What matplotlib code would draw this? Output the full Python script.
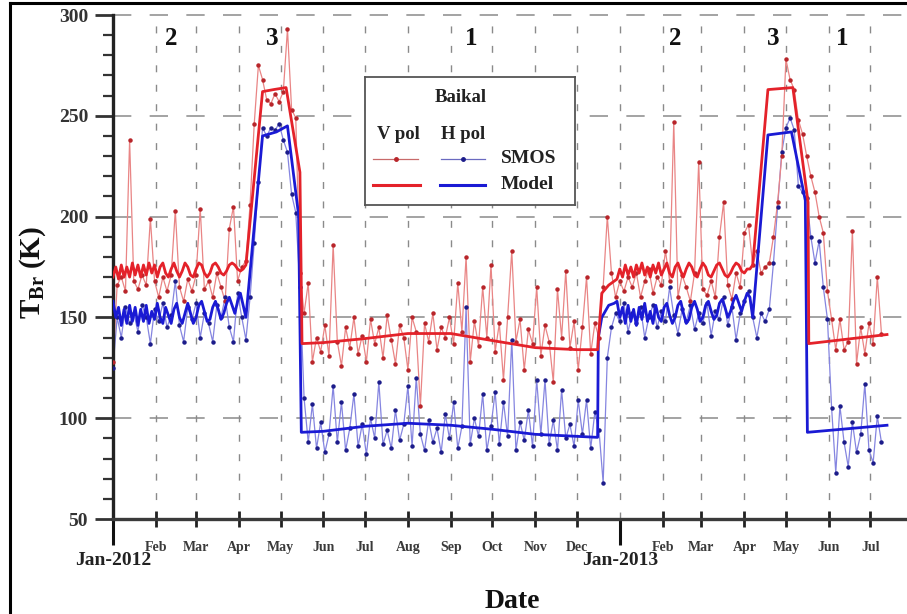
import numpy as np
import matplotlib
matplotlib.use("Agg")
import matplotlib.pyplot as plt
import matplotlib.dates as mdates
from matplotlib.lines import Line2D
from datetime import date

plt.rcParams['font.family'] = ['Liberation Serif', 'DejaVu Serif']
plt.rcParams['font.weight'] = 'bold'
plt.rcParams['mathtext.fontset'] = 'custom'
plt.rcParams['mathtext.rm'] = 'Liberation Serif:bold'
plt.rcParams['mathtext.bf'] = 'Liberation Serif:bold'
plt.rcParams['mathtext.it'] = 'Liberation Serif:bold'

# ---------------------------------------------------------------
# Data: days are counted from 1 Jan 2012
# ---------------------------------------------------------------
SMOS_STEP = 3          # days between plotted SMOS samples
MODEL_STEP = 2         # days between model samples in the ice periods

# SMOS brightness temperatures (K), V and H polarisation, by period
smos_v_a_start, smos_v_a = 0, [128, 166, 170, 163, 238, 168, 164, 171, 166, 199,
                               168, 160, 170, 163, 171, 203, 165, 158, 169, 163,
                               171, 204, 164, 168, 160, 172, 165, 158, 194, 205,
                               168, 175]
smos_h_a = [125, 150, 140, 155, 147, 152, 143, 156, 150, 137,
            154, 148, 157, 145, 151, 168, 146, 138, 155, 149,
            157, 140, 152, 147, 138, 156, 150, 160, 145, 138,
            162, 150]

smos_b_start = 96
smos_v_b = [178, 206, 246, 275, 268, 258, 256, 261, 257, 262, 293, 253, 249, 172]
smos_h_b = [139, 160, 187, 217, 244, 240, 244, 243, 246, 238, 232, 211, 202, 165]

smos_c_start = 138
smos_v_c = [152, 167, 128, 140, 133, 146, 131, 186, 138, 126,
            145, 135, 150, 132, 141, 128, 149, 137, 145, 130,
            151, 139, 127, 146, 140, 124, 150, 143, 106, 147,
            138, 152, 134, 145, 140, 150, 137, 167, 143, 180,
            128, 148, 136, 165, 140, 176, 133, 147, 119, 150,
            183, 138, 149, 124, 144, 137, 165, 131, 146, 138,
            118, 164, 140, 173, 135, 148, 124, 145, 170, 132,
            147, 140]
smos_h_c = [110, 88, 107, 85, 98, 83, 92, 116, 88, 108,
            84, 95, 112, 86, 97, 82, 100, 90, 118, 87,
            94, 85, 104, 89, 97, 116, 86, 120, 92, 84,
            99, 88, 95, 83, 102, 90, 108, 85, 96, 155,
            87, 100, 91, 112, 84, 96, 113, 87, 108, 91,
            139, 84, 98, 89, 104, 86, 119, 92, 119, 87,
            99, 84, 114, 90, 97, 86, 109, 92, 109, 85,
            103, 94]

smos_d_start = 354
smos_v_d = [165, 200, 172, 160, 168, 163, 170, 165, 172, 160,
            168, 174, 162, 170, 166, 183, 168, 247, 160, 171,
            165, 158, 172, 227, 164, 161, 168, 160, 190, 207,
            166, 159, 172, 165, 192, 196]
smos_h_d = [68, 130, 145, 152, 148, 157, 143, 152, 147, 155,
            140, 150, 156, 145, 153, 148, 165, 151, 142, 154,
            148, 156, 144, 152, 147, 157, 141, 153, 149, 160,
            146, 155, 139, 152, 158, 163]

smos_e_start = 462
smos_v_e = [176, 183, 172, 175, 177, 190, 207, 230, 278, 268,
            263, 248, 241, 230, 220, 212, 200, 192, 163, 149,
            134, 149, 134, 138, 193, 127, 145, 132, 147, 137,
            170, 142]
smos_h_e = [150, 140, 152, 148, 154, 177, 205, 232, 244, 249,
            243, 215, 212, 209, 190, 177, 188, 165, 149, 105,
            73, 106, 88, 76, 98, 83, 92, 117, 84, 78,
            101, 88]

# Model (K): ice-covered winters sampled every MODEL_STEP days
model_w12_start = 0
model_v_w12 = [170, 175, 169, 176, 170, 175, 170, 177, 171, 176,
               170, 176, 171, 177, 172, 176, 170, 175, 177, 172,
               170, 174, 177, 173, 170, 173, 177, 175, 171, 170,
               174, 177, 176, 172, 170, 172, 176, 177, 175, 172,
               171, 173, 176, 177, 176, 174, 173, 174]
model_h_w12 = [158, 150, 155, 146, 154, 147, 156, 148, 155, 146,
               154, 148, 156, 147, 153, 149, 157, 150, 147, 155,
               151, 147, 154, 157, 150, 147, 152, 157, 152, 147,
               150, 156, 158, 153, 148, 149, 155, 158, 154, 149,
               152, 157, 160, 156, 152, 158, 162, 156]

model_w13_start = 364
model_v_w13 = [169, 174, 170, 176, 171, 175, 170, 176, 172, 177,
               171, 175, 170, 176, 172, 177, 171, 174, 177, 172,
               170, 175, 177, 173, 170, 174, 177, 175, 171, 170,
               174, 177, 175, 171, 170, 173, 176, 177, 174, 171,
               170, 172, 175, 177, 176, 173, 172, 174]
model_h_w13 = [158, 150, 155, 147, 156, 148, 154, 146, 155, 149,
               157, 148, 153, 147, 156, 150, 148, 155, 157, 151,
               147, 150, 156, 158, 152, 147, 149, 155, 158, 154,
               148, 150, 156, 158, 153, 149, 151, 157, 159, 155,
               150, 153, 158, 161, 157, 153, 158, 162]

# Model: melt, open water and freeze-up
model_v_mid_days = [96, 108, 116, 125, 135, 136.5, 152, 182, 213, 244, 274, 305, 335, 350, 353, 358, 362]
model_v_mid = [176, 262, 263, 264, 222, 137, 137.5, 139.5, 142, 142, 138.5, 135, 134, 134, 162, 166, 168]
model_h_mid_days = [96, 108, 118, 126, 134, 136, 152, 182, 213, 244, 274, 305, 335, 350, 350.5, 353, 358, 362]
model_h_mid = [150, 240, 242, 245, 201, 93, 93.5, 96, 97.5, 96.5, 94.5, 92, 91, 90.5, 140, 150, 156, 157]

model_v_end_days = [460, 462, 473, 491, 502, 502.5, 559]
model_v_end = [174, 176, 263, 264, 207, 137, 141.5]
model_h_end_days = [460, 462, 473, 490, 500, 501.5, 559]
model_h_end = [160, 150, 240.5, 242, 208, 93, 96.5]

# Ice regime labels along the top
regime_labels = ['2', '3', '1', '2', '3', '1']
regime_days = [42, 115, 259, 406, 477, 527]

# ---------------------------------------------------------------
T0 = mdates.date2num(date(2012, 1, 1))


def grid_days(start, values, step):
    return start + step * np.arange(len(values))


smos_days = np.concatenate([
    grid_days(smos_v_a_start, smos_v_a, SMOS_STEP),
    grid_days(smos_b_start, smos_v_b, SMOS_STEP),
    grid_days(smos_c_start, smos_v_c, SMOS_STEP),
    grid_days(smos_d_start, smos_v_d, SMOS_STEP),
    grid_days(smos_e_start, smos_v_e, SMOS_STEP),
])
smos_v = np.concatenate([smos_v_a, smos_v_b, smos_v_c, smos_v_d, smos_v_e])
smos_h = np.concatenate([smos_h_a, smos_h_b, smos_h_c, smos_h_d, smos_h_e])

model_v_days = np.concatenate([grid_days(model_w12_start, model_v_w12, MODEL_STEP),
                               model_v_mid_days,
                               grid_days(model_w13_start, model_v_w13, MODEL_STEP),
                               model_v_end_days])
model_v = np.concatenate([model_v_w12, model_v_mid, model_v_w13, model_v_end])
model_h_days = np.concatenate([grid_days(model_w12_start, model_h_w12, MODEL_STEP),
                               model_h_mid_days,
                               grid_days(model_w13_start, model_h_w13, MODEL_STEP),
                               model_h_end_days])
model_h = np.concatenate([model_h_w12, model_h_mid, model_h_w13, model_h_end])

# Styles
V_LINE, V_DOT, V_MODEL = '#e98585', '#b8252a', '#e4222a'
H_LINE, H_DOT, H_MODEL = '#8585e0', '#1c1c8a', '#1a1ad4'
GRID = '#8a8a8a'

fig = plt.figure(figsize=(9.07, 6.14), dpi=100)
ax = fig.add_axes([113 / 907, 95 / 614, (905 - 113) / 907, 504 / 614])

ax.plot(T0 + smos_days, smos_h, color=H_LINE, lw=0.9, zorder=2)
ax.plot(T0 + smos_days, smos_h, ls='none', marker='o', ms=2.2, color=H_DOT, zorder=3)
ax.plot(T0 + smos_days, smos_v, color=V_LINE, lw=0.9, zorder=2)
ax.plot(T0 + smos_days, smos_v, ls='none', marker='o', ms=2.2, color=V_DOT, zorder=3)
ax.plot(T0 + model_h_days, model_h, color=H_MODEL, lw=2.0, zorder=4)
ax.plot(T0 + model_v_days, model_v, color=V_MODEL, lw=2.0, zorder=5)

ax.set_xlim(T0, T0 + 572)
ax.set_ylim(50, 300)

# Month ticks and January year markers
month_starts = [date(2012, m, 1) for m in range(2, 13)] + [date(2013, m, 1) for m in range(2, 8)]
jan_starts = [date(2012, 1, 1), date(2013, 1, 1)]
ax.set_xticks(mdates.date2num(month_starts))
ax.set_xticklabels([d.strftime('%b') for d in month_starts])
ax.set_xticks(mdates.date2num(jan_starts), minor=True)
ax.set_xticklabels(['Jan-2012', 'Jan-2013'], minor=True)
ax.tick_params(axis='x', which='major', direction='inout', length=12, width=2.0,
               pad=9.5, labelsize=10, labelcolor='#3a3a3a', color='#222')
ax.tick_params(axis='x', which='minor', direction='out', length=19, width=2.2,
               pad=5, labelsize=14, labelcolor='#222', color='#111')

ax.set_yticks(np.arange(50, 301, 50))
ax.set_yticks(np.arange(50, 301, 10), minor=True)
ax.tick_params(axis='y', which='major', direction='out', length=13, width=2.0,
               pad=5, labelsize=14, labelcolor='#333', color='#333')
ax.tick_params(axis='y', which='minor', direction='out', length=7, width=1.6, color='#333')

for s in ('top', 'right'):
    ax.spines[s].set_visible(False)
ax.spines['left'].set_linewidth(2.4)
ax.spines['left'].set_color('#222')
ax.spines['bottom'].set_linewidth(2.4)
ax.spines['bottom'].set_color('#3a3a3a')

# Dashed grid
for d in month_starts + [date(2013, 1, 1)]:
    ax.axvline(mdates.date2num(d), color=GRID, lw=1.0, ls=(0, (5, 9)), zorder=1)
for yv in range(100, 301, 50):
    ax.axhline(yv, color=GRID, lw=1.1, ls=(0, (12, 12)), zorder=1, clip_on=False)

for lab, d in zip(regime_labels, regime_days):
    ax.text(T0 + d, 288.5, lab, ha='center', va='center', fontsize=18, color='#111')

fig.text(33 / 907, 1 - 272 / 614, r'T$_{\mathbf{Br}}$ (K)', rotation=90,
         ha='center', va='center', fontsize=21, color='#111')
fig.text(512 / 907, 1 - 601 / 614, 'Date', ha='center', va='center',
         fontsize=20, color='#111')

# Legend panel
lg = fig.add_axes([365 / 907, 1 - 205 / 614, 210 / 907, 128 / 614])
lg.set_xlim(365, 575)
lg.set_ylim(205, 77)
lg.set_xticks([])
lg.set_yticks([])
for s in lg.spines.values():
    s.set_color('#555')
    s.set_linewidth(1.3)
lg.text(461, 98, 'Baikal', ha='center', va='center', fontsize=13.5, color='#222')
lg.text(398, 135, 'V pol', ha='center', va='center', fontsize=13.5, color='#222')
lg.text(463, 135, 'H pol', ha='center', va='center', fontsize=13.5, color='#222')
lg.plot([373, 418], [159, 159], color='#c86a6a', lw=0.9)
lg.plot([396], [159], marker='o', ms=2.5, color=V_DOT)
lg.plot([441, 485], [159, 159], color='#6a6ac0', lw=0.9)
lg.plot([463], [159], marker='o', ms=2.5, color=H_DOT)
lg.text(501, 159, 'SMOS', ha='left', va='center', fontsize=14, color='#222')
lg.plot([373, 420], [185, 185], color=V_MODEL, lw=2.2)
lg.plot([440, 485], [185, 185], color=H_MODEL, lw=2.2)
lg.text(501, 185, 'Model', ha='left', va='center', fontsize=14, color='#222')

# Outer frame
fig.add_artist(Line2D([10 / 907, 10 / 907], [0, 1 - 3 / 614], transform=fig.transFigure,
                      color='k', lw=2.2))
fig.add_artist(Line2D([10 / 907, 1], [1 - 3 / 614, 1 - 3 / 614], transform=fig.transFigure,
                      color='k', lw=2.2))

fig.savefig('out.png', dpi=100)
